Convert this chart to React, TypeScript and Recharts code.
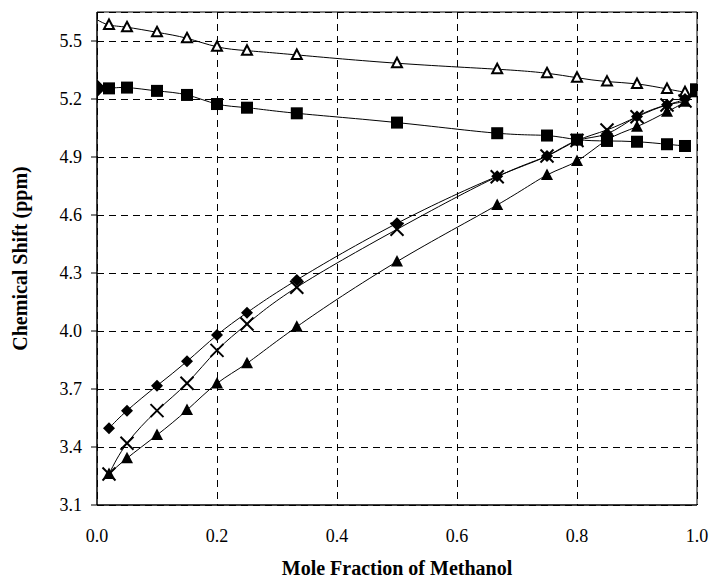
import React from 'react';
import {
  ComposedChart,
  Line,
  Scatter,
  XAxis,
  YAxis,
  CartesianGrid,
  ReferenceLine,
  Label
} from 'recharts';

const FONT = 'Liberation Serif, DejaVu Serif, serif';

// mole fraction of methanol for the measured points
const moleFractions = [0.02, 0.05, 0.1, 0.15, 0.2, 0.25, 0.333, 0.5, 0.667, 0.75, 0.8, 0.85, 0.9, 0.95, 0.98];

const openTriangleShift = [5.583, 5.571, 5.545, 5.514, 5.47, 5.45, 5.428, 5.385, 5.354, 5.333, 5.31, 5.29, 5.278, 5.252, 5.235];
const squareShift = [5.255, 5.259, 5.242, 5.221, 5.174, 5.155, 5.126, 5.078, 5.023, 5.011, 4.99, 4.983, 4.979, 4.966, 4.957];
const diamondShift = [3.497, 3.588, 3.717, 3.843, 3.979, 4.095, 4.264, 4.557, 4.8, 4.905, 4.985, 5.02, 5.11, 5.17, 5.2];
const crossShift = [3.26, 3.419, 3.588, 3.73, 3.9, 4.036, 4.226, 4.526, 4.798, 4.905, 4.985, 5.04, 5.108, 5.169, 5.19];
const filledTriangleShift = [3.26, 3.342, 3.462, 3.591, 3.729, 3.833, 4.022, 4.359, 4.652, 4.807, 4.879, 4.988, 5.057, 5.134, 5.186];

// pure component end points (x = 0 and x = 1)
const pureWaterPoint = [{ x: 0, y: 5.255 }];
const pureMethanolPoint = [{ x: 1, y: 5.245 }];

// curve-only extensions to the end points
const openTriangleStart = 5.61;
const squareStart = 5.255;
const lowerCurvesEnd = 5.245;

const yTicks = [3.1, 3.4, 3.7, 4.0, 4.3, 4.6, 4.9, 5.2, 5.5];
const xTicks = [0, 0.2, 0.4, 0.6, 0.8, 1.0];

const build = (values: number[], start?: number, end?: number) => {
  const rows: { x: number; y: number; curveOnly?: boolean }[] = moleFractions.map((x, i) => ({ x, y: values[i] }));
  if (start !== undefined) rows.unshift({ x: 0, y: start, curveOnly: true });
  if (end !== undefined) rows.push({ x: 1, y: end, curveOnly: true });
  return rows;
};

const openTriData = build(openTriangleShift, openTriangleStart);
const squareData = build(squareShift, squareStart);
const diamondData = build(diamondShift, undefined, lowerCurvesEnd);
const crossData = build(crossShift, undefined, lowerCurvesEnd);
const filledTriData = build(filledTriangleShift, undefined, lowerCurvesEnd);

const makeDot = (kind: string) => (props: any) => {
  const { cx, cy, payload, index } = props;
  const key = `${kind}-${index}`;
  if (payload && payload.curveOnly) return <g key={key} />;
  if (kind === 'diamond') {
    const r = 6;
    return <polygon key={key} points={`${cx},${cy - r} ${cx + r},${cy} ${cx},${cy + r} ${cx - r},${cy}`} fill="#000" />;
  }
  if (kind === 'square') {
    return <rect key={key} x={cx - 6} y={cy - 6} width={12} height={12} fill="#000" />;
  }
  if (kind === 'cross') {
    const r = 6.5;
    return (
      <g key={key} stroke="#000" strokeWidth={2}>
        <line x1={cx - r} y1={cy - r} x2={cx + r} y2={cy + r} />
        <line x1={cx - r} y1={cy + r} x2={cx + r} y2={cy - r} />
      </g>
    );
  }
  if (kind === 'openTri') {
    return (
      <polygon key={key} points={`${cx},${cy - 5.5} ${cx + 5},${cy + 4} ${cx - 5},${cy + 4}`}
        fill="#fff" stroke="#000" strokeWidth={2} />
    );
  }
  return <polygon key={key} points={`${cx},${cy - 6.5} ${cx + 6},${cy + 5} ${cx - 6},${cy + 5}`} fill="#000" />;
};

const BigDiamond = (props: any) => {
  const { cx, cy } = props;
  const r = 9;
  return <polygon points={`${cx},${cy - r} ${cx + r},${cy} ${cx},${cy + r} ${cx - r},${cy}`} fill="#000" />;
};

const BigSquare = (props: any) => {
  const { cx, cy } = props;
  return <rect x={cx - 7} y={cy - 7} width={14} height={14} fill="#000" />;
};

const YTitle = (props: any) => {
  const vb = props.viewBox || { y: 12, height: 493 };
  const cy = vb.y + vb.height / 2;
  return (
    <text x={20} y={cy} transform={`rotate(-90, 20, ${cy})`} textAnchor="middle" dominantBaseline="central"
      fontFamily={FONT} fontWeight="bold" fontSize={20} fill="#000">
      Chemical Shift (ppm)
    </text>
  );
};

const XTick = (props: any) => {
  const { x, y, payload } = props;
  return (
    <text x={x} y={y} dy={13} textAnchor="middle" fontFamily={FONT} fontSize={18} fill="#000">
      {Number(payload.value).toFixed(1)}
    </text>
  );
};

const YTick = (props: any) => {
  const { x, y, payload } = props;
  return (
    <text x={x} y={y} dy={6} textAnchor="end" fontFamily={FONT} fontSize={18} fill="#000">
      {Number(payload.value).toFixed(1)}
    </text>
  );
};

const XTitle = (props: any) => {
  const vb = props.viewBox || { x: 97, width: 600 };
  return (
    <text x={vb.x + vb.width / 2} y={575} textAnchor="middle" fontFamily={FONT} fontWeight="bold" fontSize={20} fill="#000">
      Mole Fraction of Methanol
    </text>
  );
};

const App: React.FC = () => {
  return (
    <div style={{ position: 'absolute', left: 0, top: 0, width: 713, height: 579, background: '#fff', fontFamily: FONT }}>
      <ComposedChart width={713} height={579} margin={{ top: 12, right: 16, bottom: 0, left: 37 }}>
        <CartesianGrid stroke="#000" strokeDasharray="7 5" shapeRendering="crispEdges" />
        <XAxis
          type="number"
          dataKey="x"
          domain={[0, 1]}
          ticks={xTicks}
          allowDataOverflow
          height={74}
          tickSize={6}
          tickLine={false}
          tickMargin={18}
          tick={<XTick />}
          axisLine={{ stroke: '#000', strokeWidth: 1.5 }}
        >
          <Label content={<XTitle />} />
        </XAxis>
        <YAxis
          type="number"
          dataKey="y"
          domain={[3.1, 5.65]}
          ticks={yTicks}
          allowDataOverflow
          width={60}
          tickSize={6}
          tickMargin={9}
          tick={<YTick />}
          tickLine={{ stroke: '#000' }}
          axisLine={{ stroke: '#000', strokeWidth: 1.5 }}
        >
          <Label content={<YTitle />} />
        </YAxis>
        <ReferenceLine x={1} stroke="#000" strokeWidth={1} />
        <ReferenceLine y={5.65} stroke="#000" strokeWidth={1} />

        <Line data={openTriData} dataKey="y" type="natural" stroke="#000" strokeWidth={1}
          dot={makeDot('openTri')} activeDot={false} isAnimationActive={false} />
        <Line data={squareData} dataKey="y" type="natural" stroke="#000" strokeWidth={1}
          dot={makeDot('square')} activeDot={false} isAnimationActive={false} />
        <Line data={diamondData} dataKey="y" type="natural" stroke="#000" strokeWidth={1}
          dot={makeDot('diamond')} activeDot={false} isAnimationActive={false} />
        <Line data={crossData} dataKey="y" type="natural" stroke="#000" strokeWidth={1}
          dot={makeDot('cross')} activeDot={false} isAnimationActive={false} />
        <Line data={filledTriData} dataKey="y" type="natural" stroke="#000" strokeWidth={1}
          dot={makeDot('filledTri')} activeDot={false} isAnimationActive={false} />

        <Scatter data={pureWaterPoint} dataKey="y" shape={<BigDiamond />} isAnimationActive={false} />
        <Scatter data={pureMethanolPoint} dataKey="y" shape={<BigSquare />} isAnimationActive={false} />
      </ComposedChart>
    </div>
  );
};

export default App;
